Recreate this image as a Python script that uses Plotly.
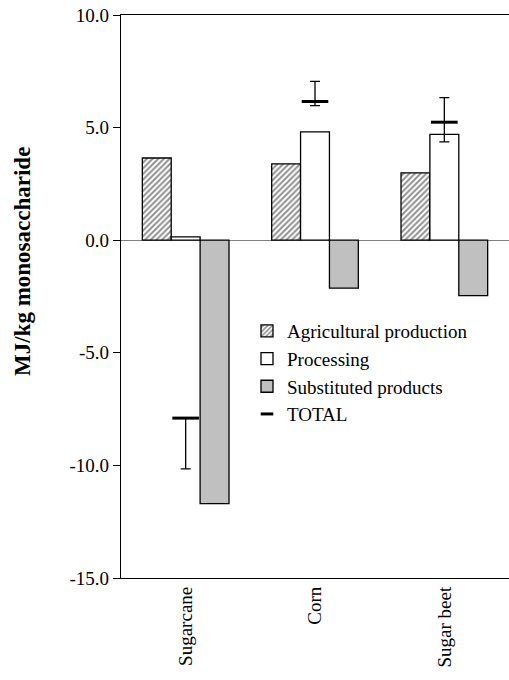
import plotly.graph_objects as go

categories = ["Sugarcane", "Corn", "Sugar beet"]
agricultural = [3.65, 3.39, 2.99]
processing = [0.15, 4.81, 4.70]
substituted = [-11.70, -2.13, -2.46]
total = [-7.90, 6.16, 5.24]
total_err_plus = [0.0, 0.89, 1.09]
total_err_minus = [2.25, 0.18, 0.87]
y_tickvals = [-15, -10, -5, 0, 5, 10]
y_ticktext = ["-15.0", "-10.0", "-5.0", "0.0", "5.0", "10.0"]

FONT = "Liberation Serif, Times New Roman, serif"
W, H = 509, 680
L, R, T, B = 121, 0, 15, 102
pw, ph = W - L - R, H - T - B

fig = go.Figure()
fig.add_trace(go.Bar(
    x=categories, y=agricultural, name="Agricultural production",
    marker=dict(color="white", line=dict(color="black", width=1.3),
                pattern=dict(shape="/", fgcolor="#222222", bgcolor="white",
                             size=4, solidity=0.5)),
))
fig.add_trace(go.Bar(
    x=categories, y=processing, name="Processing",
    marker=dict(color="white", line=dict(color="black", width=1.3)),
))
fig.add_trace(go.Bar(
    x=categories, y=substituted, name="Substituted products",
    marker=dict(color="#c0c0c0", line=dict(color="black", width=1.3)),
))
fig.add_trace(go.Scatter(
    x=categories, y=total, name="TOTAL", mode="markers", showlegend=False,
    marker=dict(symbol="line-ew", size=19, color="black",
                line=dict(width=3, color="black")),
    error_y=dict(type="data", symmetric=False, array=total_err_plus,
                 arrayminus=total_err_minus, color="black", thickness=1.3,
                 width=5),
))
# legend entry for TOTAL (short dash)
fig.add_trace(go.Scatter(
    x=[None], y=[None], name="TOTAL", mode="markers",
    marker=dict(symbol="line-ew", size=9, color="black",
                line=dict(width=3, color="black")),
))

fig.update_layout(
    width=W, height=H,
    margin=dict(l=L, r=R, t=T, b=B),
    paper_bgcolor="white", plot_bgcolor="white",
    font=dict(family=FONT, size=19, color="black"),
    barmode="group", bargap=0.33, bargroupgap=0,
    showlegend=True,
    legend=dict(x=(247 - L) / pw, y=(H - B - 312) / ph, xanchor="left",
                yanchor="top", bgcolor="rgba(0,0,0,0)",
                font=dict(family=FONT, size=19), traceorder="normal"),
)
fig.update_xaxes(
    showline=True, linecolor="black", linewidth=1.3, mirror=True,
    ticks="", tickangle=-90, ticklabelstandoff=0, showgrid=False,
    tickfont=dict(family=FONT, size=19),
)
fig.update_yaxes(
    range=[-15, 10], tickvals=y_tickvals, ticktext=y_ticktext,
    showline=True, linecolor="black", linewidth=1.3,
    ticks="outside", ticklen=7, tickcolor="black", tickwidth=1.3,
    showgrid=False, zeroline=True, zerolinecolor="#808080", zerolinewidth=1,
    tickfont=dict(family=FONT, size=19),
)
fig.add_annotation(
    text="<b>MJ/kg monosaccharide</b>", textangle=-90,
    xref="paper", yref="paper",
    x=(22 - L) / pw, y=(H - B - 262) / ph,
    xanchor="center", yanchor="middle", showarrow=False,
    font=dict(family=FONT, size=23, color="black"),
)

fig.write_html("out.html")
